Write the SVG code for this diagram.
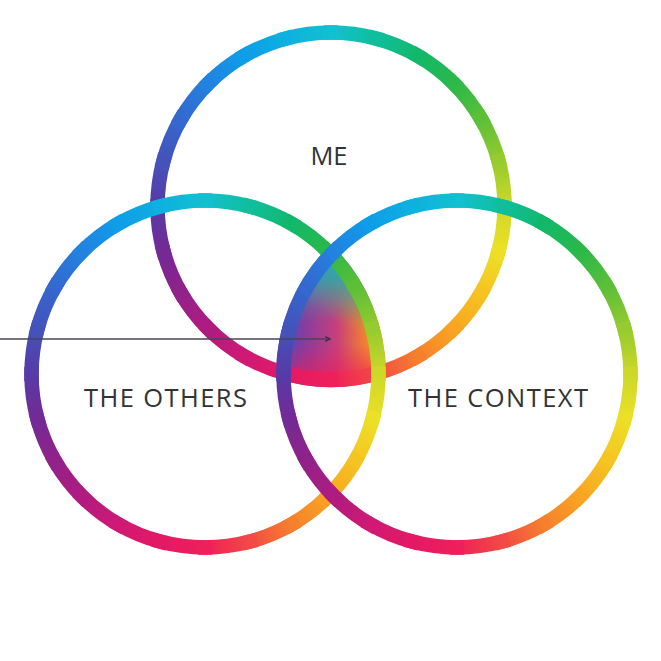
<svg xmlns="http://www.w3.org/2000/svg" xmlns:xlink="http://www.w3.org/1999/xlink" width="661" height="661" viewBox="0 0 661 661">
<style>
.seg{fill:none;stroke-width:14.5;stroke-linecap:square}
.lbl{font-family:"Open Sans","Lato","Liberation Sans",sans-serif;font-weight:400;font-size:25.5px;fill:#333336;text-anchor:middle}
.conn{stroke:#4a4556;stroke-width:1.3;fill:none}
</style>
<defs>
<linearGradient id="g0" gradientUnits="userSpaceOnUse" x1="0" y1="-173.5" x2="44.91" y2="-167.59"><stop offset="0" stop-color="#12c0cf"/><stop offset="1" stop-color="#10be9e"/></linearGradient>
<linearGradient id="g1" gradientUnits="userSpaceOnUse" x1="44.91" y1="-167.59" x2="86.75" y2="-150.26"><stop offset="0" stop-color="#10be9e"/><stop offset="1" stop-color="#12b86a"/></linearGradient>
<linearGradient id="g2" gradientUnits="userSpaceOnUse" x1="86.75" y1="-150.26" x2="122.68" y2="-122.68"><stop offset="0" stop-color="#12b86a"/><stop offset="1" stop-color="#2bb84a"/></linearGradient>
<linearGradient id="g3" gradientUnits="userSpaceOnUse" x1="122.68" y1="-122.68" x2="150.26" y2="-86.75"><stop offset="0" stop-color="#2bb84a"/><stop offset="1" stop-color="#5cbf38"/></linearGradient>
<linearGradient id="g4" gradientUnits="userSpaceOnUse" x1="150.26" y1="-86.75" x2="167.59" y2="-44.91"><stop offset="0" stop-color="#5cbf38"/><stop offset="1" stop-color="#95cb2e"/></linearGradient>
<linearGradient id="g5" gradientUnits="userSpaceOnUse" x1="167.59" y1="-44.91" x2="173.5" y2="0"><stop offset="0" stop-color="#95cb2e"/><stop offset="1" stop-color="#cdd828"/></linearGradient>
<linearGradient id="g6" gradientUnits="userSpaceOnUse" x1="173.5" y1="0" x2="167.59" y2="44.91"><stop offset="0" stop-color="#cdd828"/><stop offset="1" stop-color="#ece026"/></linearGradient>
<linearGradient id="g7" gradientUnits="userSpaceOnUse" x1="167.59" y1="44.91" x2="150.26" y2="86.75"><stop offset="0" stop-color="#ece026"/><stop offset="1" stop-color="#f6c421"/></linearGradient>
<linearGradient id="g8" gradientUnits="userSpaceOnUse" x1="150.26" y1="86.75" x2="122.68" y2="122.68"><stop offset="0" stop-color="#f6c421"/><stop offset="1" stop-color="#f8a522"/></linearGradient>
<linearGradient id="g9" gradientUnits="userSpaceOnUse" x1="122.68" y1="122.68" x2="86.75" y2="150.26"><stop offset="0" stop-color="#f8a522"/><stop offset="1" stop-color="#f6802c"/></linearGradient>
<linearGradient id="g10" gradientUnits="userSpaceOnUse" x1="86.75" y1="150.26" x2="44.91" y2="167.59"><stop offset="0" stop-color="#f6802c"/><stop offset="1" stop-color="#f24a44"/></linearGradient>
<linearGradient id="g11" gradientUnits="userSpaceOnUse" x1="44.91" y1="167.59" x2="0" y2="173.5"><stop offset="0" stop-color="#f24a44"/><stop offset="1" stop-color="#ee1f5a"/></linearGradient>
<linearGradient id="g12" gradientUnits="userSpaceOnUse" x1="0" y1="173.5" x2="-44.91" y2="167.59"><stop offset="0" stop-color="#ee1f5a"/><stop offset="1" stop-color="#e41966"/></linearGradient>
<linearGradient id="g13" gradientUnits="userSpaceOnUse" x1="-44.91" y1="167.59" x2="-86.75" y2="150.26"><stop offset="0" stop-color="#e41966"/><stop offset="1" stop-color="#cf1974"/></linearGradient>
<linearGradient id="g14" gradientUnits="userSpaceOnUse" x1="-86.75" y1="150.26" x2="-122.68" y2="122.68"><stop offset="0" stop-color="#cf1974"/><stop offset="1" stop-color="#b01b80"/></linearGradient>
<linearGradient id="g15" gradientUnits="userSpaceOnUse" x1="-122.68" y1="122.68" x2="-150.26" y2="86.75"><stop offset="0" stop-color="#b01b80"/><stop offset="1" stop-color="#922189"/></linearGradient>
<linearGradient id="g16" gradientUnits="userSpaceOnUse" x1="-150.26" y1="86.75" x2="-167.59" y2="44.91"><stop offset="0" stop-color="#922189"/><stop offset="1" stop-color="#742a95"/></linearGradient>
<linearGradient id="g17" gradientUnits="userSpaceOnUse" x1="-167.59" y1="44.91" x2="-173.5" y2="0"><stop offset="0" stop-color="#742a95"/><stop offset="1" stop-color="#573aa8"/></linearGradient>
<linearGradient id="g18" gradientUnits="userSpaceOnUse" x1="-173.5" y1="0" x2="-167.59" y2="-44.91"><stop offset="0" stop-color="#573aa8"/><stop offset="1" stop-color="#4452ba"/></linearGradient>
<linearGradient id="g19" gradientUnits="userSpaceOnUse" x1="-167.59" y1="-44.91" x2="-150.26" y2="-86.75"><stop offset="0" stop-color="#4452ba"/><stop offset="1" stop-color="#3468cf"/></linearGradient>
<linearGradient id="g20" gradientUnits="userSpaceOnUse" x1="-150.26" y1="-86.75" x2="-122.68" y2="-122.68"><stop offset="0" stop-color="#3468cf"/><stop offset="1" stop-color="#2282e0"/></linearGradient>
<linearGradient id="g21" gradientUnits="userSpaceOnUse" x1="-122.68" y1="-122.68" x2="-86.75" y2="-150.26"><stop offset="0" stop-color="#2282e0"/><stop offset="1" stop-color="#0e9de8"/></linearGradient>
<linearGradient id="g22" gradientUnits="userSpaceOnUse" x1="-86.75" y1="-150.26" x2="-44.91" y2="-167.59"><stop offset="0" stop-color="#0e9de8"/><stop offset="1" stop-color="#0eb0e0"/></linearGradient>
<linearGradient id="g23" gradientUnits="userSpaceOnUse" x1="-44.91" y1="-167.59" x2="0" y2="-173.5"><stop offset="0" stop-color="#0eb0e0"/><stop offset="1" stop-color="#12c0cf"/></linearGradient>
<linearGradient id="fillH" gradientUnits="userSpaceOnUse" x1="280" y1="0" x2="384" y2="0"><stop offset="0" stop-color="#4a4cbc"/><stop offset="0.25" stop-color="#8a3c9c"/><stop offset="0.55" stop-color="#c8407a"/><stop offset="0.8" stop-color="#f07a38"/><stop offset="1" stop-color="#f5b024"/></linearGradient>
<linearGradient id="fillV" gradientUnits="userSpaceOnUse" x1="0" y1="244" x2="0" y2="387"><stop offset="0" stop-color="#14b2c4" stop-opacity="1"/><stop offset="0.25" stop-color="#20a6bc" stop-opacity="0.75"/><stop offset="0.55" stop-color="#4a90a8" stop-opacity="0"/><stop offset="0.7" stop-color="#f01a58" stop-opacity="0"/><stop offset="1" stop-color="#f01a58" stop-opacity="0.85"/></linearGradient>
<linearGradient id="fillG" gradientUnits="userSpaceOnUse" x1="372" y1="262" x2="335" y2="320"><stop offset="0" stop-color="#7cc63a" stop-opacity="0.9"/><stop offset="1" stop-color="#7cc63a" stop-opacity="0"/></linearGradient>
<marker id="arr" viewBox="0 0 10 10" refX="9" refY="5" markerWidth="6" markerHeight="6" markerUnits="userSpaceOnUse" orient="auto"><path d="M1,1 L9,5 L1,9" fill="none" stroke="#3a3040" stroke-width="2"/></marker>
<path id="tri" d="M331,244 A181,181 0 0 0 276.1,378.4 A181,181 0 0 0 385.9,378.4 A181,181 0 0 0 331,244 Z"/>
<g id="ring">
<path class="seg" stroke="url(#g0)" d="M0,-173.5 A173.5,173.5 0 0 1 44.91,-167.59"/>
<path class="seg" stroke="url(#g1)" d="M44.91,-167.59 A173.5,173.5 0 0 1 86.75,-150.26"/>
<path class="seg" stroke="url(#g2)" d="M86.75,-150.26 A173.5,173.5 0 0 1 122.68,-122.68"/>
<path class="seg" stroke="url(#g3)" d="M122.68,-122.68 A173.5,173.5 0 0 1 150.26,-86.75"/>
<path class="seg" stroke="url(#g4)" d="M150.26,-86.75 A173.5,173.5 0 0 1 167.59,-44.91"/>
<path class="seg" stroke="url(#g5)" d="M167.59,-44.91 A173.5,173.5 0 0 1 173.5,0"/>
<path class="seg" stroke="url(#g6)" d="M173.5,0 A173.5,173.5 0 0 1 167.59,44.91"/>
<path class="seg" stroke="url(#g7)" d="M167.59,44.91 A173.5,173.5 0 0 1 150.26,86.75"/>
<path class="seg" stroke="url(#g8)" d="M150.26,86.75 A173.5,173.5 0 0 1 122.68,122.68"/>
<path class="seg" stroke="url(#g9)" d="M122.68,122.68 A173.5,173.5 0 0 1 86.75,150.26"/>
<path class="seg" stroke="url(#g10)" d="M86.75,150.26 A173.5,173.5 0 0 1 44.91,167.59"/>
<path class="seg" stroke="url(#g11)" d="M44.91,167.59 A173.5,173.5 0 0 1 0,173.5"/>
<path class="seg" stroke="url(#g12)" d="M0,173.5 A173.5,173.5 0 0 1 -44.91,167.59"/>
<path class="seg" stroke="url(#g13)" d="M-44.91,167.59 A173.5,173.5 0 0 1 -86.75,150.26"/>
<path class="seg" stroke="url(#g14)" d="M-86.75,150.26 A173.5,173.5 0 0 1 -122.68,122.68"/>
<path class="seg" stroke="url(#g15)" d="M-122.68,122.68 A173.5,173.5 0 0 1 -150.26,86.75"/>
<path class="seg" stroke="url(#g16)" d="M-150.26,86.75 A173.5,173.5 0 0 1 -167.59,44.91"/>
<path class="seg" stroke="url(#g17)" d="M-167.59,44.91 A173.5,173.5 0 0 1 -173.5,0"/>
<path class="seg" stroke="url(#g18)" d="M-173.5,0 A173.5,173.5 0 0 1 -167.59,-44.91"/>
<path class="seg" stroke="url(#g19)" d="M-167.59,-44.91 A173.5,173.5 0 0 1 -150.26,-86.75"/>
<path class="seg" stroke="url(#g20)" d="M-150.26,-86.75 A173.5,173.5 0 0 1 -122.68,-122.68"/>
<path class="seg" stroke="url(#g21)" d="M-122.68,-122.68 A173.5,173.5 0 0 1 -86.75,-150.26"/>
<path class="seg" stroke="url(#g22)" d="M-86.75,-150.26 A173.5,173.5 0 0 1 -44.91,-167.59"/>
<path class="seg" stroke="url(#g23)" d="M-44.91,-167.59 A173.5,173.5 0 0 1 0,-173.5"/>
</g>
</defs>
<rect width="661" height="661" fill="#ffffff"/>
<g id="overlap">
<use xlink:href="#tri" href="#tri" fill="url(#fillH)"/>
<use xlink:href="#tri" href="#tri" fill="url(#fillG)"/>
<use xlink:href="#tri" href="#tri" fill="url(#fillV)"/>
</g>
<g id="me">
<use xlink:href="#ring" href="#ring" x="331" y="206"/>
<text class="lbl" x="329" y="165" textLength="37">ME</text>
</g>
<g id="others">
<use xlink:href="#ring" href="#ring" x="205" y="374"/>
<text class="lbl" x="165.5" y="407" textLength="163">THE OTHERS</text>
</g>
<g id="context">
<use xlink:href="#ring" href="#ring" x="457" y="374"/>
<text class="lbl" x="498" y="407" textLength="180">THE CONTEXT</text>
</g>
<g id="connectors">
<line class="conn" x1="0" y1="339" x2="330" y2="339" marker-end="url(#arr)"/>
</g>
</svg>
